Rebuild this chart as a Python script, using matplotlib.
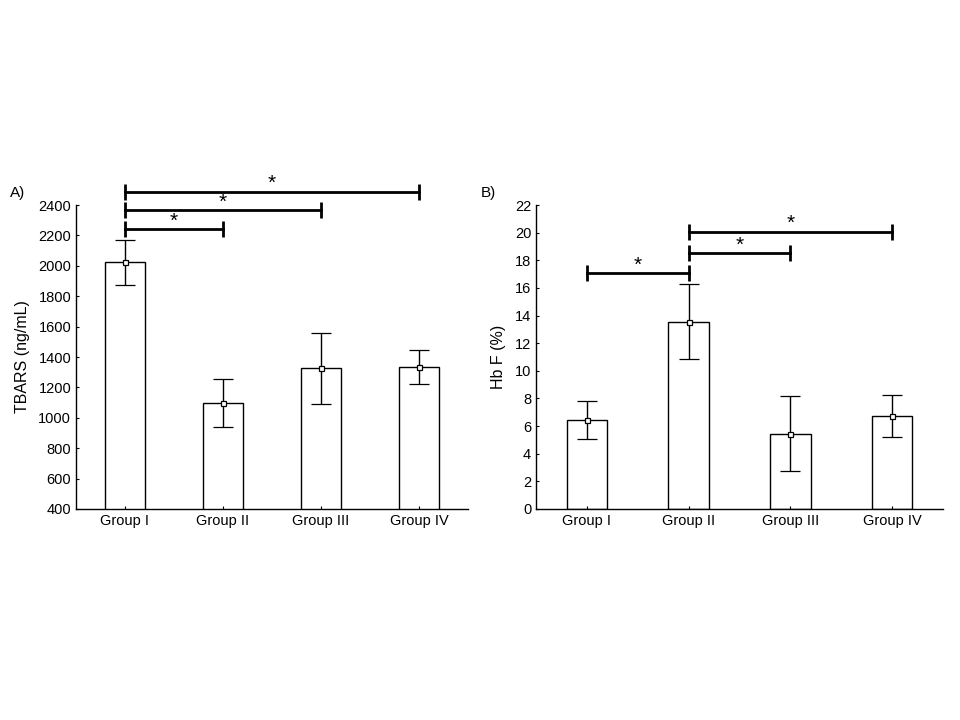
import matplotlib
matplotlib.use('Agg')
import matplotlib.pyplot as plt
import numpy as np

plt.rcParams['font.family'] = ['Liberation Sans', 'DejaVu Sans']

# ---------------------------------------------------------------------------
# Data
# ---------------------------------------------------------------------------
GROUPS = ['Group I', 'Group II', 'Group III', 'Group IV']

TBARS_MEAN = [2022, 1098, 1326, 1335]
TBARS_ERR = [148, 160, 234, 110]
TBARS_SIG = [(0, 1, 2240), (0, 2, 2365), (0, 3, 2488)]

HBF_MEAN = [6.43, 13.55, 5.45, 6.73]
HBF_ERR = [1.35, 2.72, 2.72, 1.52]
HBF_SIG = [(0, 1, 17.05), (1, 2, 18.5), (1, 3, 20.05)]


def draw_panel(ax, means, errs, sig, ylim, yticks, ylabel, star_off):
    x = np.arange(len(GROUPS)) + 0.5
    ax.bar(x, means, width=0.4, color='white', edgecolor='black', linewidth=1.0)
    ax.errorbar(x, means, yerr=errs, fmt='s', ms=3.6, mfc='white', mec='black',
                mew=0.9, ecolor='black', elinewidth=1.0, capsize=7.5, capthick=1.0)

    for a, b, y in sig:
        ax.plot([x[a], x[b]], [y, y], color='black', linewidth=2,
                marker='|', markersize=11, mew=2, clip_on=False)
        ax.text((x[a] + x[b]) / 2, y + star_off, '*', ha='center', va='center',
                fontsize=15, clip_on=False)

    ax.set_xlim(0, len(GROUPS))
    ax.set_ylim(*ylim)
    ax.set_yticks(yticks)
    ax.set_xticks(x)
    ax.set_xticklabels(GROUPS)
    ax.set_ylabel(ylabel, fontsize=11.5, labelpad=6)
    ax.tick_params(direction='in', length=2, labelsize=10.5, width=0.8)
    for side in ('top', 'right'):
        ax.spines[side].set_visible(False)
    for side in ('left', 'bottom'):
        ax.spines[side].set_linewidth(1.0)


fig = plt.figure(figsize=(9.6, 7.2), dpi=100)
ax_a = fig.add_axes([76 / 960, 1 - 509 / 720, 392 / 960, 304 / 720])
ax_b = fig.add_axes([536 / 960, 1 - 509 / 720, 407 / 960, 304 / 720])

draw_panel(ax_a, TBARS_MEAN, TBARS_ERR, TBARS_SIG, (400, 2400),
           np.arange(400, 2401, 200), 'TBARS (ng/mL)', 55)
draw_panel(ax_b, HBF_MEAN, HBF_ERR, HBF_SIG, (0, 22),
           np.arange(0, 23, 2), 'Hb F (%)', 0.6)

fig.text(10 / 960, 1 - 193 / 720, 'A)', fontsize=11, va='center')
fig.text(481 / 960, 1 - 193 / 720, 'B)', fontsize=11, va='center')

fig.savefig('out.png', dpi=100)
